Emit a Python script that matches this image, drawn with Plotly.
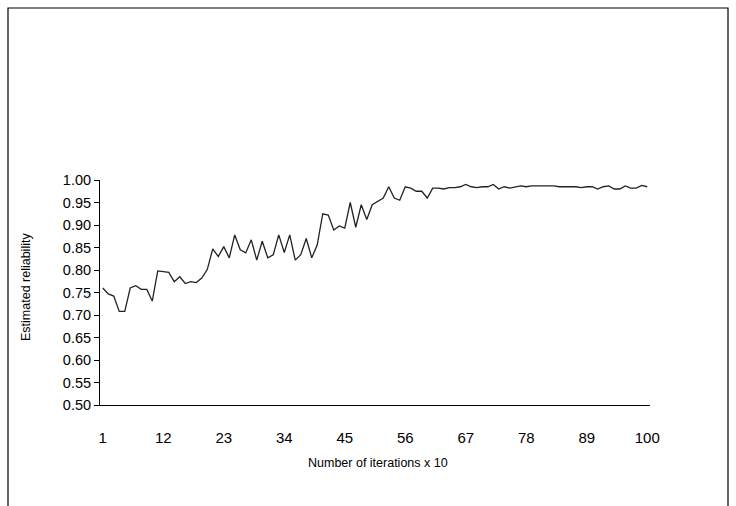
import plotly.graph_objects as go

iterations = list(range(1, 101))
reliability = [
    0.760, 0.747, 0.742, 0.708, 0.708, 0.760, 0.765, 0.757, 0.757, 0.731,
    0.798, 0.796, 0.795, 0.774, 0.785, 0.770, 0.774, 0.772, 0.782, 0.801,
    0.847, 0.830, 0.852, 0.827, 0.878, 0.845, 0.838, 0.867, 0.822, 0.864,
    0.827, 0.834, 0.878, 0.839, 0.878, 0.822, 0.834, 0.870, 0.827, 0.856,
    0.925, 0.922, 0.889, 0.898, 0.893, 0.950, 0.895, 0.945, 0.912, 0.945,
    0.952, 0.960, 0.985, 0.960, 0.955, 0.985, 0.982, 0.975, 0.975, 0.960,
    0.982, 0.982, 0.980, 0.983, 0.983, 0.985, 0.990, 0.985, 0.983, 0.985,
    0.985, 0.990, 0.980, 0.985, 0.982, 0.985, 0.987, 0.985, 0.987, 0.987,
    0.987, 0.987, 0.987, 0.985, 0.985, 0.985, 0.985, 0.983, 0.985, 0.985,
    0.980, 0.985, 0.987, 0.980, 0.980, 0.987, 0.982, 0.982, 0.988, 0.985,
]
x_ticks = [1, 12, 23, 34, 45, 56, 67, 78, 89, 100]
y_ticks = [0.50, 0.55, 0.60, 0.65, 0.70, 0.75, 0.80, 0.85, 0.90, 0.95, 1.00]

W, H = 736, 506
L, R, T, B = 100, 86, 180, 101
pw, ph = W - L - R, H - T - B

def px(xp):
    return (xp - L) / pw

def py(yp):
    return (H - B - yp) / ph

font = "Liberation Sans, Arial, sans-serif"

fig = go.Figure()
fig.add_trace(go.Scatter(
    x=iterations, y=reliability, mode="lines",
    line=dict(color="#222222", width=1.3), showlegend=False,
))

fig.update_layout(
    width=W, height=H,
    margin=dict(l=L, r=R, t=T, b=B),
    paper_bgcolor="white", plot_bgcolor="white",
    font=dict(family=font, size=12, color="black"),
    xaxis=dict(
        range=[0.5, 100.5], tickmode="array", tickvals=x_ticks,
        ticktext=[str(v) for v in x_ticks], showgrid=False, zeroline=False,
        showline=True, linecolor="black", linewidth=1, ticks="",
        ticklabelstandoff=19, tickfont=dict(size=15),
    ),
    yaxis=dict(
        range=[0.5, 1.0], tickmode="array", tickvals=y_ticks,
        ticktext=[f"{v:.2f}" for v in y_ticks], showgrid=False, zeroline=False,
        showline=True, linecolor="black", linewidth=1, ticks="outside",
        ticklen=5, tickcolor="black", tickfont=dict(size=14.5),
    ),
    shapes=[dict(
        type="rect", xref="paper", yref="paper",
        x0=px(8), x1=px(728), y0=py(530), y1=py(8),
        line=dict(color="black", width=1.2), fillcolor="rgba(0,0,0,0)",
        layer="below",
    )],
    annotations=[
        dict(text="Number of iterations x 10", xref="paper", yref="paper",
             x=px(378), y=py(472), showarrow=False,
             font=dict(size=12.5, family=font)),
        dict(text="Estimated reliability", xref="paper", yref="paper",
             x=px(17), y=py(287), showarrow=False, textangle=-90,
             font=dict(size=12.5, family=font)),
    ],
)

fig.write_html(
    "out.html",
    config={"displayModeBar": False},
    post_script="document.body.style.margin='0';document.body.style.padding='0';",
)
